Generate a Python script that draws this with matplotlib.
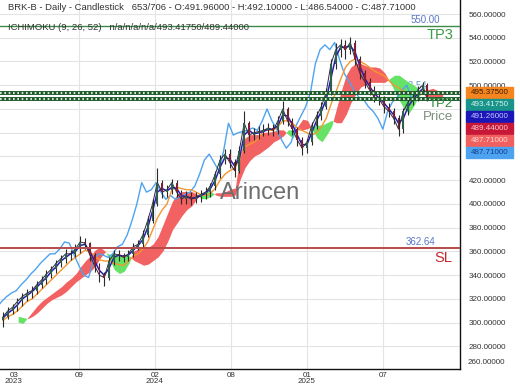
import numpy as np
import matplotlib
matplotlib.use('Agg')
import matplotlib.pyplot as plt
from matplotlib.patches import Rectangle
from matplotlib.transforms import blended_transform_factory

plt.rcParams['font.family'] = ['Liberation Sans', 'DejaVu Sans']

# one sample every 8 daily bars, ichimoku displacement of 26 bars
step = 8
shift = 26

first_open = 302
close = [305, 310, 313, 318, 322, 325, 327, 332, 336, 341,
         345, 350, 354, 358, 358, 362, 368, 367, 357, 348,
         340, 338, 352, 358, 357, 355, 358, 364, 366, 374,
         386, 400, 418, 410, 412, 418, 410, 404, 407, 404,
         406, 408, 410, 415, 425, 437, 442, 435, 428, 445,
         468, 458, 460, 461, 462, 464, 462, 470, 480, 470,
         463, 454, 447, 452, 466, 474, 482, 494, 518, 530,
         534, 530, 536, 522, 510, 503, 496, 490, 488, 482,
         478, 472, 463, 478, 486, 490, 496, 500, 487.71]
high = [309, 313, 316, 321, 325, 328, 331, 335, 339, 344,
        348, 353, 357, 362, 361, 366, 373, 371, 368, 359,
        350, 343, 355, 361, 361, 359, 361, 367, 370, 378,
        390, 404, 430, 420, 416, 421, 420, 412, 411, 410,
        410, 412, 414, 418, 428, 441, 446, 446, 438, 449,
        478, 470, 464, 466, 467, 468, 467, 474, 487, 482,
        472, 465, 456, 455, 469, 478, 486, 498, 522, 536,
        539, 538, 541, 538, 525, 513, 506, 499, 493, 491,
        485, 481, 475, 481, 489, 494, 499, 503, 502]
low = [296, 303, 307, 310, 314, 318, 321, 324, 329, 333,
       338, 342, 347, 350, 353, 355, 359, 362, 352, 343,
       334, 331, 336, 349, 352, 351, 352, 355, 361, 363,
       372, 384, 398, 405, 406, 408, 406, 400, 400, 399,
       401, 402, 404, 406, 412, 422, 434, 430, 423, 426,
       443, 453, 454, 455, 457, 458, 457, 459, 467, 466,
       458, 449, 441, 443, 450, 463, 471, 480, 492, 514,
       524, 522, 526, 517, 505, 498, 492, 486, 483, 477,
       473, 467, 457, 460, 475, 483, 487, 493, 486.54]
tenkan = [304, 308, 311, 315, 320, 323, 326, 330, 334, 338,
          343, 347, 352, 355, 358, 360, 365, 366, 360, 352,
          344, 340, 346, 355, 357, 356, 357, 361, 365, 370,
          380, 394, 410, 413, 411, 414, 413, 407, 406, 405,
          405, 407, 409, 413, 420, 431, 439, 438, 432, 438,
          458, 462, 459, 460, 461, 463, 463, 466, 475, 474,
          467, 458, 450, 450, 460, 470, 478, 488, 506, 524,
          532, 532, 533, 528, 516, 506, 499, 493, 489, 485,
          480, 475, 468, 472, 482, 488, 493, 497, 491.26]
kijun = [302, 305, 307, 310, 314, 318, 320, 324, 328, 332,
         336, 340, 344, 348, 352, 355, 358, 361, 360, 356,
         353, 352, 352, 350, 349, 348, 352, 356, 358, 362,
         368, 378, 388, 395, 400, 412, 414, 413, 412, 412,
         410, 408, 407, 409, 413, 420, 425, 428, 430, 437,
         448, 450, 452, 455, 462, 462, 462, 465, 470, 470,
         468, 464, 462, 460, 458, 460, 465, 472, 484, 494,
         505, 515, 520, 522, 520, 518, 515, 512, 510, 508,
         504, 500, 498, 495, 494, 494, 494, 495, 495.375]
span_a = [300, 299, 304, 309, 314, 318, 321, 324, 327, 330,
          334, 337, 341, 347, 352, 356, 361, 363, 360, 352,
          344, 341, 343, 350, 360, 362, 362, 363, 366, 372,
          382, 392, 402, 408, 410, 410, 410, 408, 404, 404,
          406, 409, 409, 410, 412, 413, 440, 455, 458, 458,
          458, 460, 460, 461, 462, 462, 458, 455, 465, 471,
          470, 462, 455, 452, 458, 465, 480, 495, 508, 515,
          518, 518, 516, 515, 515, 514, 510, 503, 495, 487,
          480, 476, 482, 490, 494, 496, 497, 495, 493.4175]
span_b = [305, 304, 303, 305, 308, 312, 316, 319, 321, 323,
          326, 330, 334, 337, 340, 343, 347, 354, 359, 357,
          357, 357, 356, 356, 352, 350, 348, 349, 352, 355,
          360, 368, 378, 384, 390, 395, 398, 404, 408, 410,
          410, 407, 406, 406, 406, 407, 420, 430, 436, 440,
          442, 445, 448, 452, 454, 457, 462, 462, 462, 462,
          463, 465, 466, 466, 468, 470, 468, 468, 475, 485,
          492, 498, 500, 502, 502, 502, 502, 505, 508, 508,
          505, 502, 500, 496, 492, 490, 490, 489, 489.44]

tp3 = 550.00
tp2 = 493.54
entry = 488.30
sl = 362.64

tick_bars = [126, 252, 378, 504, 630]
tick_labels = ['09', '02\n2024', '08', '01\n2025', '07']
price_ticks = [280, 300, 320, 340, 360, 380, 400, 420, 440, 460, 480, 500, 520, 540, 560]
hidden_ticks = [440, 460, 480]   # covered by the value tags

tag_values = ['495.37500', '493.41750', '491.26000', '489.44000', '487.71000', '487.71000']
tag_colors = ['#f5861f', '#18948a', '#1a16b8', '#c81838', '#f0605e', '#4da3f0']
tag_text = ['#3b1d00', '#d8f4f0', '#c8c8ff', '#f8c8d0', '#ffd8d8', '#123c8a']


W, H = 520, 390
fig = plt.figure(figsize=(W / 100, H / 100), dpi=100)
ax = fig.add_axes([0, 21 / H, 460 / W, 369 / H])

close = np.array(close, dtype=float)
bars = np.arange(len(close)) * step
opens = np.concatenate([[first_open], close[:-1]])
a = np.array(span_a)
b = np.array(span_b)

# kumo cloud, drawn ahead by 26 bars
cb = bars + shift
ax.fill_between(cb, a, b, where=a >= b, interpolate=True, color='#f36262', lw=0, zorder=1)
ax.fill_between(cb, a, b, where=a < b, interpolate=True, color='#66e266', lw=0, zorder=1)

# chikou, kijun, tenkan
ax.plot(bars - shift, close, color='#4da3f0', lw=1.0, zorder=2)
ax.plot(bars, kijun, color='#f5962f', lw=1.0, zorder=3)
ax.plot(bars, tenkan, color='#2a1cb0', lw=1.1, zorder=4)

# candles
up = close >= opens
ax.plot(bars, close, color='#2b2b45', lw=0.7, zorder=5)
ax.vlines(bars, low, high, color='#2a2a2a', lw=0.8, zorder=5)
ax.bar(bars, np.abs(close - opens), bottom=np.minimum(close, opens), width=3.2,
       color=np.where(up, '#2f5f4a', '#7e2030'), zorder=6)

# trade levels
tr = blended_transform_factory(ax.transAxes, ax.transData)
ax.axhline(tp3, color='#3d8b47', lw=1.0, zorder=7)
ax.axhline(sl, color='#b84a4a', lw=1.4, zorder=7)
for lvl in (tp2, entry):
    ax.axhline(lvl, color='#1d5a2a', lw=2.8, zorder=7)
    ax.axhline(lvl, color='white', lw=1.2, ls=(0, (1, 1.6)), zorder=8)

ax.text(0.957, tp3 + 1, '550.00', transform=tr, ha='right', va='bottom', fontsize=7, color='#5b78c8')
ax.text(0.985, tp3 - 2, 'TP3', transform=tr, ha='right', va='top', fontsize=10.5, color='#3d9a47')
ax.text(0.946, sl + 1, '362.64', transform=tr, ha='right', va='bottom', fontsize=7, color='#5b78c8')
ax.text(0.983, sl - 2, 'SL', transform=tr, ha='right', va='top', fontsize=10.5, color='#c0282d')
ax.text(0.93, 499, '493.54', transform=tr, ha='right', va='center', fontsize=7, color='#5b9fcf', zorder=0.5)
ax.text(0.985, 484.2, 'TP2', transform=tr, ha='right', va='center', fontsize=9.5, color='#2f8a3c', zorder=9)
ax.text(0.985, 473, 'Price', transform=tr, ha='right', va='center', fontsize=9.5, color='#7d8f7d', zorder=9)

ax.text(0.565, 409, 'Arincen', transform=tr, ha='center', va='center', fontsize=17, color='#6e6e6e', zorder=9)

ax.set_xlim(-5, 758)
ax.set_ylim(261, 571.8)
ax.yaxis.tick_right()
ax.set_yticks(price_ticks)
ax.set_yticklabels(['' if v in hidden_ticks else '%.5f' % v for v in price_ticks])
ax.set_xticks(tick_bars)
ax.set_xticklabels(tick_labels, linespacing=0.9)
ax.tick_params(length=0, labelsize=5.8, colors='#333333')
ax.tick_params(axis='y', pad=6)
ax.tick_params(axis='x', pad=2)
ax.grid(color='#e4e4e4', lw=0.8, zorder=0)
ax.set_axisbelow(True)
for s in ('top', 'left'):
    ax.spines[s].set_visible(False)
for s in ('right', 'bottom'):
    ax.spines[s].set_color('#111111')
    ax.spines[s].set_linewidth(1.0)

ax.text(14 / 460, -0.008, '03\n2023', transform=ax.transAxes, ha='center', va='top',
        fontsize=5.8, color='#333333', linespacing=0.9)
fig.text(468 / W, 1 - 362 / H, '260.00000', ha='left', va='center', fontsize=5.8, color='#333333')

# last value tags
for i, (val, bg, fg) in enumerate(zip(tag_values, tag_colors, tag_text)):
    yc = 92.5 + 12 * i
    fig.patches.append(Rectangle((466 / W, 1 - (yc + 5.5) / H), 47 / W, 11 / H,
                                 transform=fig.transFigure, color=bg, zorder=10))
    fig.text(489.5 / W, 1 - yc / H, val, ha='center', va='center', fontsize=5.8, color=fg, zorder=11)

fig.text(8 / W, 1 - 8 / H,
         'BRK-B - Daily - Candlestick   653/706 - O:491.96000 - H:492.10000 - L:486.54000 - C:487.71000',
         ha='left', va='center', fontsize=6.8, color='#333333')
fig.text(8 / W, 1 - 28 / H, 'ICHIMOKU (9, 26, 52)   n/a/n/a/n/a/493.41750/489.44000',
         ha='left', va='center', fontsize=6.8, color='#333333')

fig.savefig('out.png', dpi=100)
